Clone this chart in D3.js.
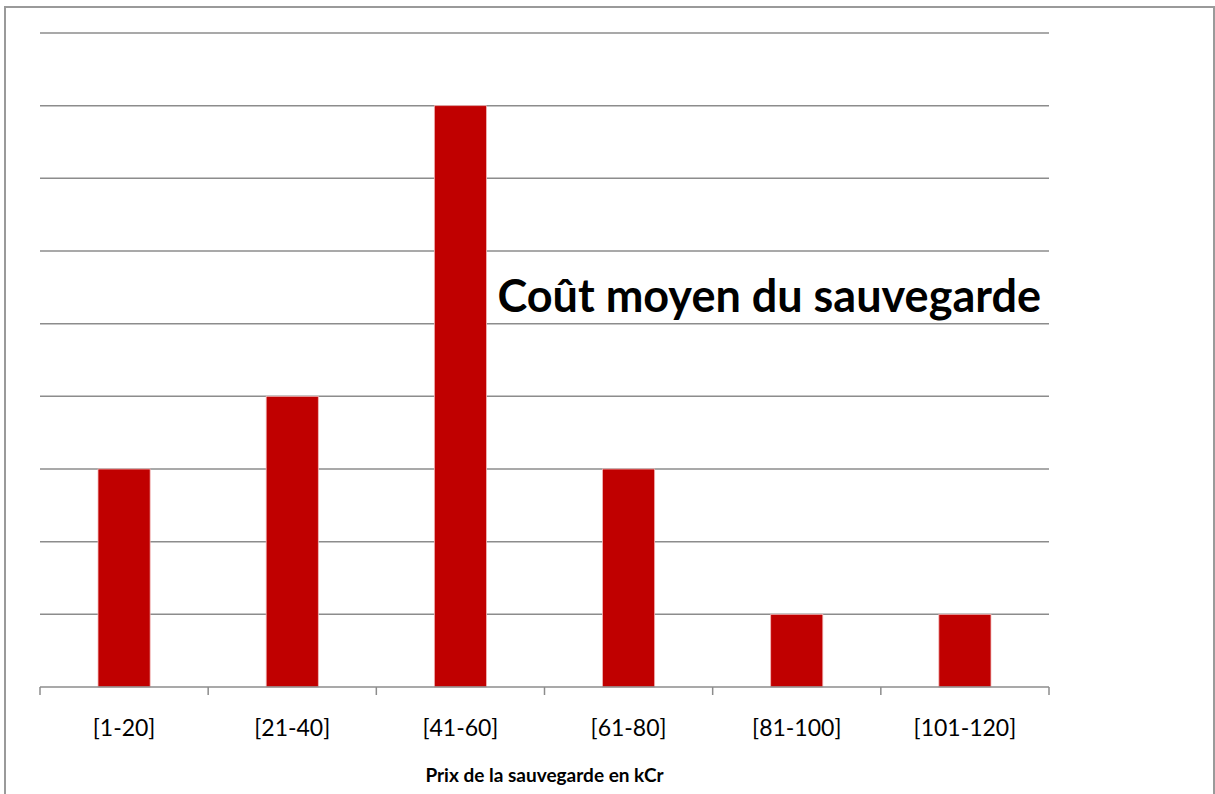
<!DOCTYPE html>
<html>
<head>
<meta charset="utf-8">
<script src="https://cdn.jsdelivr.net/npm/d3@7"></script>
<style>
  body { margin: 0; background: #fff; }
</style>
</head>
<body>
<div id="chart"></div>
<script>
// Data
const categories = ['[1-20]', '[21-40]', '[41-60]', '[61-80]', '[81-100]', '[101-120]'];
const counts = [3, 4, 8, 3, 1, 1];
const yTicks = [0, 1, 2, 3, 4, 5, 6, 7, 8, 9];

const width = 1215;
const height = 794;
const margin = { top: 33, left: 40, right: 166, bottom: 107 };

const svg = d3.select('#chart')
    .append('svg')
    .attr('width', width)
    .attr('height', height);

// Chart border
svg.append('rect')
    .attr('x', 5)
    .attr('y', 7)
    .attr('width', 1209)
    .attr('height', 800)
    .style('fill', 'none')
    .style('stroke', '#9a9a9a')
    .style('stroke-width', 2);

const x = d3.scaleBand()
    .domain(categories)
    .range([margin.left, width - margin.right])
    .paddingInner(0.69)
    .paddingOuter(0.345);

const y = d3.scaleLinear()
    .domain([0, 9])
    .range([height - margin.bottom, margin.top]);

// Gridlines
svg.append('g')
    .selectAll('line')
    .data(yTicks.slice(1))
    .enter()
    .append('line')
    .attr('x1', margin.left)
    .attr('x2', width - margin.right)
    .attr('y1', d => y(d))
    .attr('y2', d => y(d))
    .style('stroke', '#8c8c8c')
    .style('stroke-width', 1.5);

// Bars
svg.append('g')
    .selectAll('rect')
    .data(categories)
    .enter()
    .append('rect')
    .attr('x', d => x(d))
    .attr('y', (d, i) => y(counts[i]))
    .attr('width', x.bandwidth())
    .attr('height', (d, i) => y(0) - y(counts[i]))
    .style('fill', '#c00000')
    .style('stroke', '#f2b8b8')
    .style('stroke-width', 0.8);

// X axis
const xAxis = svg.append('g')
    .attr('transform', `translate(0,${y(0)})`)
    .call(d3.axisBottom(x).tickSize(0).tickPadding(33));

xAxis.select('.domain')
    .attr('d', `M${margin.left},0H${width - margin.right}`)
    .style('stroke', '#8c8c8c')
    .style('stroke-width', 1.5);

xAxis.selectAll('text')
    .style('font-family', 'Lato, "Open Sans", sans-serif')
    .style('font-size', '23px')
    .style('fill', '#000');

// Category boundary ticks
const step = x.step();
svg.append('g')
    .selectAll('line')
    .data(d3.range(categories.length + 1))
    .enter()
    .append('line')
    .attr('x1', i => margin.left + i * step)
    .attr('x2', i => margin.left + i * step)
    .attr('y1', y(0))
    .attr('y2', y(0) + 8)
    .style('stroke', '#8c8c8c')
    .style('stroke-width', 1.5);

// Axis title
svg.append('text')
    .attr('x', (margin.left + width - margin.right) / 2)
    .attr('y', 782)
    .attr('text-anchor', 'middle')
    .style('font-family', 'Lato, "Open Sans", sans-serif')
    .style('font-weight', 'bold')
    .style('font-size', '19px')
    .text('Prix de la sauvegarde en kCr');

// Chart title
svg.append('text')
    .attr('x', 1041)
    .attr('y', 312)
    .attr('text-anchor', 'end')
    .style('font-family', 'Lato, "Open Sans", sans-serif')
    .style('font-weight', 'bold')
    .style('font-size', '45px')
    .text('Coût moyen du sauvegarde');
</script>
</body>
</html>
